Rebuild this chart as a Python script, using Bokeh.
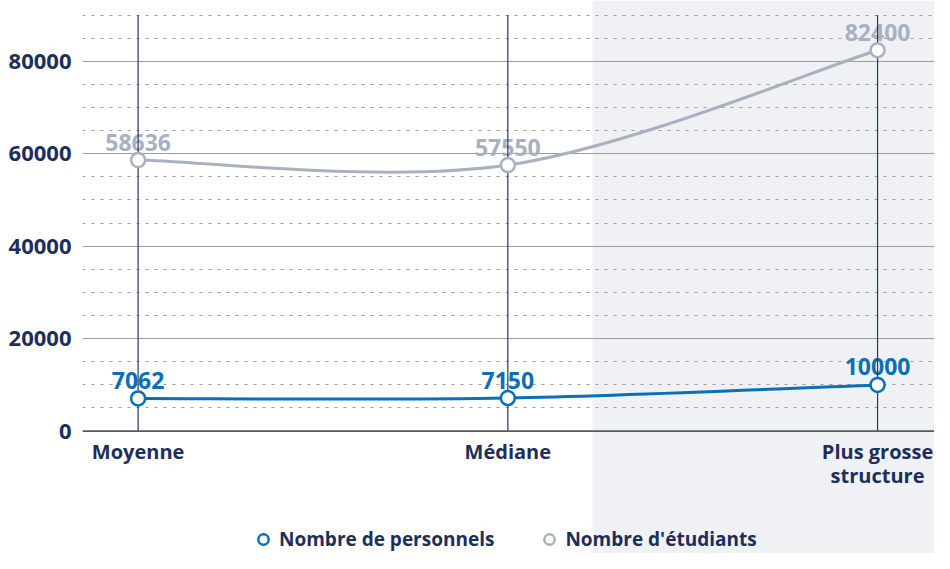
from bokeh.plotting import figure
from bokeh.models import (Range1d, FixedTicker, BoxAnnotation, Span, Legend, LegendItem,
                          ColumnDataSource)
from bokeh.core.properties import value
from bokeh.embed import file_html
from bokeh.resources import INLINE

# ---- data ----
categories = ["Moyenne", "Médiane", "Plus grosse\nstructure"]
personnels = [7062, 7150, 10000]
etudiants = [58636, 57550, 82400]
y_ticks = [0, 20000, 40000, 60000, 80000]
y_minor = [5000, 10000, 15000, 25000, 30000, 35000, 45000, 50000, 55000,
           65000, 70000, 75000, 85000, 90000]
y_max = 90000
series_names = ["Nombre de personnels", "Nombre d'étudiants"]

NAVY = "#1c2e5a"
BLUE = "#0b6fb6"
GRAY = "#a7b1bf"
FONT = "Open Sans"

xs = list(range(len(categories)))

p = figure(width=934, height=553,
           x_range=Range1d(-0.1504, 2.154), y_range=Range1d(-26481, 93159),
           output_backend="svg", toolbar_location=None, x_axis_location=None,
           min_border_left=82, min_border_right=0, min_border_top=0, min_border_bottom=0,
           outline_line_color=None, background_fill_color="white",
           border_fill_color="white")

# shaded zone
p.add_layout(BoxAnnotation(left=1.229, fill_color="#f0f1f4", fill_alpha=1.0,
                           line_color=None, level="image"))

# y axis
yax = p.yaxis[0]
yax.ticker = FixedTicker(ticks=y_ticks, minor_ticks=y_minor)
yax.major_label_overrides = {t: str(t) for t in y_ticks}
yax.axis_line_color = None
yax.major_tick_line_color = None
yax.minor_tick_line_color = None
yax.major_tick_out = 0
yax.major_label_standoff = 7
yax.major_label_text_font = FONT
yax.major_label_text_font_style = "bold"
yax.major_label_text_font_size = "22px"
yax.major_label_text_color = NAVY

p.xgrid.visible = False
p.ygrid.grid_line_color = "#9c9c9c"
p.ygrid.grid_line_width = 1.2
p.ygrid.minor_grid_line_color = "#9c9c9c"
p.ygrid.minor_grid_line_width = 1
p.ygrid.minor_grid_line_dash = "3 6"

p.add_layout(Span(location=0, dimension="width", line_color="#555a63", line_width=1.6))

# data labels
p.text(x=xs, y=etudiants, text=[str(v) for v in etudiants], text_align="center",
       text_baseline="alphabetic", y_offset=-18, text_font=value(FONT),
       text_font_style="bold", text_font_size="23px", text_color=GRAY)
p.text(x=xs, y=personnels, text=[str(v) for v in personnels], text_align="center",
       text_baseline="alphabetic", y_offset=-18, text_font=value(FONT),
       text_font_style="bold", text_font_size="23px", text_color=BLUE)

# vertical category lines
p.segment(x0=xs, y0=[0] * len(xs), x1=xs, y1=[y_max] * len(xs),
          line_color="#27385f", line_width=1.2)

# category labels
p.text(x=xs, y=[0] * len(xs), text=categories, text_align="center", text_baseline="top",
       y_offset=6.5, text_font=value(FONT), text_font_style="bold",
       text_font_size="20px", text_color=NAVY, text_line_height=0.9)


def smooth(xv, yv):
    n = len(xv)
    d = dict(x0=[], y0=[], x1=[], y1=[], cx0=[], cy0=[], cx1=[], cy1=[])
    for i in range(n - 1):
        pm = max(i - 1, 0)
        pn = min(i + 2, n - 1)
        d["x0"].append(xv[i]); d["y0"].append(yv[i])
        d["x1"].append(xv[i + 1]); d["y1"].append(yv[i + 1])
        d["cx0"].append(xv[i] + (xv[i + 1] - xv[pm]) / 6)
        d["cy0"].append(yv[i] + (yv[i + 1] - yv[pm]) / 6)
        d["cx1"].append(xv[i + 1] - (xv[pn] - xv[i]) / 6)
        d["cy1"].append(yv[i + 1] - (yv[pn] - yv[i]) / 6)
    return ColumnDataSource(d)


p.bezier("x0", "y0", "x1", "y1", "cx0", "cy0", "cx1", "cy1",
         source=smooth(xs, etudiants), line_color=GRAY, line_width=3)
p.bezier("x0", "y0", "x1", "y1", "cx0", "cy0", "cx1", "cy1",
         source=smooth(xs, personnels), line_color=BLUE, line_width=3)

r_et = p.scatter(xs, etudiants, size=14, fill_color="white", line_color=GRAY, line_width=2.5)
r_pe = p.scatter(xs, personnels, size=14, fill_color="white", line_color=BLUE, line_width=2.5)

legend = Legend(items=[LegendItem(label=series_names[0], renderers=[r_pe]),
                       LegendItem(label=series_names[1], renderers=[r_et])],
                orientation="horizontal", location=(168, 1),
                background_fill_alpha=0, border_line_color=None, padding=0, margin=0,
                spacing=42, label_standoff=3, glyph_width=26, glyph_height=26,
                label_text_font=FONT, label_text_font_style="bold",
                label_text_font_size="19px", label_text_color=NAVY)
p.add_layout(legend)

open("out.html", "w").write(file_html(p, INLINE))
